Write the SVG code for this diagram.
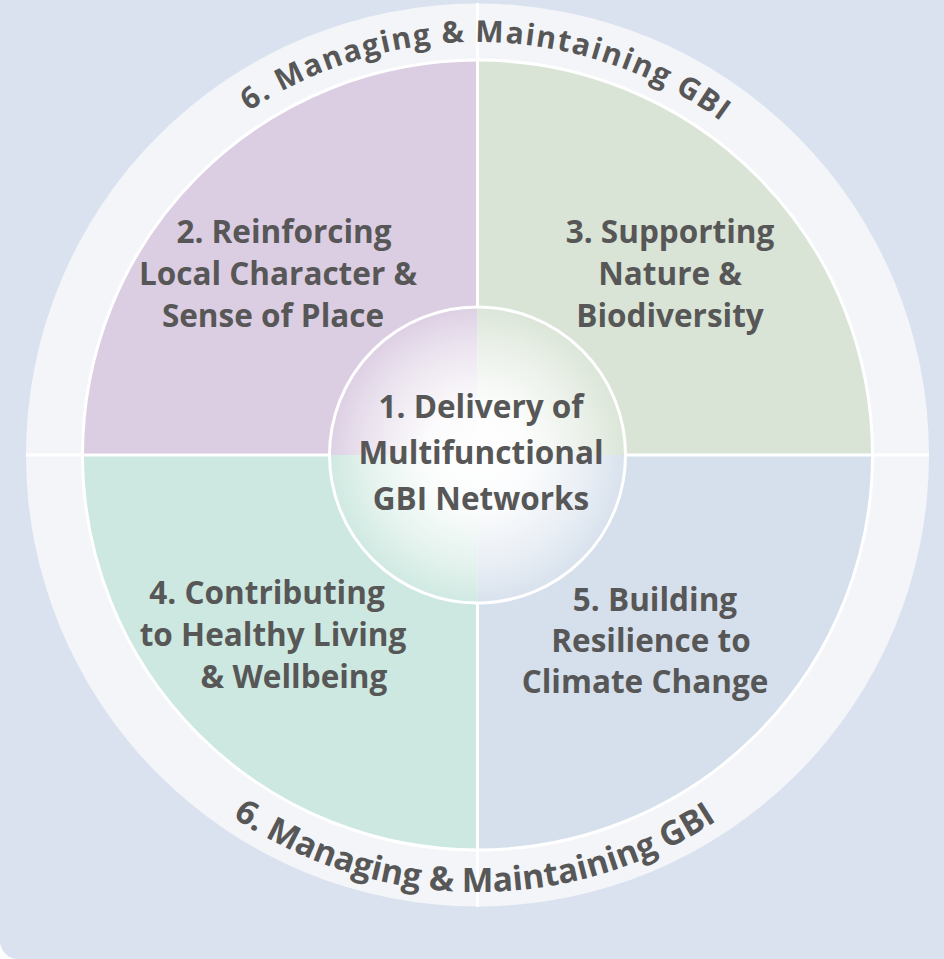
<svg xmlns="http://www.w3.org/2000/svg" width="944" height="959" viewBox="0 0 944 959">
  <style>
    .lbl { font-family: "Open Sans", "Liberation Sans", sans-serif; font-weight: 700; fill: #575757; text-anchor: middle; }
    .q { font-size: 31.5px; }
    .arc { font-size: 30px; letter-spacing: 1.55px; }
    .arcb { font-size: 33.5px; }
    .div { stroke: #ffffff; stroke-width: 3; fill: none; }
  </style>
  <defs>
    <radialGradient id="glow" cx="0.5" cy="0.5" r="0.5">
      <stop offset="0" stop-color="#ffffff" stop-opacity="1"/>
      <stop offset="0.35" stop-color="#ffffff" stop-opacity="0.92"/>
      <stop offset="0.75" stop-color="#ffffff" stop-opacity="0.45"/>
      <stop offset="1" stop-color="#ffffff" stop-opacity="0.05"/>
    </radialGradient>
    <path id="arcTop" d="M 64.5 455 A 413 413 0 0 1 890.5 455"/>
    <path id="arcBot" d="M 40.5 455 A 437 437 0 0 0 914.5 455"/>
  </defs>
  <rect x="0" y="0" width="944" height="959" fill="#ffffff"/>
  <path d="M0 0 H944 V959 H18 A18 18 0 0 1 0 941 Z" fill="#dbe2ef"/>

  <g id="node6">
    <circle cx="477.5" cy="455" r="451.5" fill="#f3f5f9"/>
  </g>

  <g id="node2">
    <path d="M477.5 455 H82.5 A395 395 0 0 1 477.5 60 Z" fill="#dbcde2"/>
    <text class="lbl q" x="284" y="243">2. Reinforcing</text>
    <text class="lbl q" x="278" y="285">Local Character &amp;</text>
    <text class="lbl q" x="273" y="327">Sense of Place</text>
  </g>
  <g id="node3">
    <path d="M477.5 455 V60 A395 395 0 0 1 872.5 455 Z" fill="#d9e4d6"/>
    <text class="lbl q" x="670" y="243">3. Supporting</text>
    <text class="lbl q" x="670" y="285">Nature &amp;</text>
    <text class="lbl q" x="670" y="327">Biodiversity</text>
  </g>
  <g id="node4">
    <path d="M477.5 455 H82.5 A395 395 0 0 0 477.5 850 Z" fill="#cde8e0"/>
    <text class="lbl q" x="267" y="604">4. Contributing</text>
    <text class="lbl q" x="273" y="646">to Healthy Living</text>
    <text class="lbl q" x="294" y="688">&amp; Wellbeing</text>
  </g>
  <g id="node5">
    <path d="M477.5 455 V850 A395 395 0 0 0 872.5 455 Z" fill="#d6e0ec"/>
    <text class="lbl q" x="655" y="611">5. Building</text>
    <text class="lbl q" x="651" y="652">Resilience to</text>
    <text class="lbl q" x="645" y="693">Climate Change</text>
  </g>

  <g id="connectors">
    <circle class="div" cx="477.5" cy="455" r="395"/>
    <line class="div" x1="477.5" y1="3" x2="477.5" y2="307"/>
    <line class="div" x1="477.5" y1="603" x2="477.5" y2="907"/>
    <line class="div" x1="26" y1="455" x2="329.5" y2="455"/>
    <line class="div" x1="625.5" y1="455" x2="929" y2="455"/>
  </g>

  <g id="node6-labels">
    <text class="lbl arc"><textPath href="#arcTop" startOffset="658">6. Managing &amp; Maintaining GBI</textPath></text>
    <text class="lbl arcb"><textPath href="#arcBot" startOffset="683">6. Managing &amp; Maintaining GBI</textPath></text>
  </g>

  <g id="node1">
    <circle cx="477.5" cy="455" r="148" fill="url(#glow)" stroke="#ffffff" stroke-width="3"/>
    <text class="lbl q" x="481" y="418">1. Delivery of</text>
    <text class="lbl q" x="481" y="464">Multifunctional</text>
    <text class="lbl q" x="481" y="510">GBI Networks</text>
  </g>
</svg>
